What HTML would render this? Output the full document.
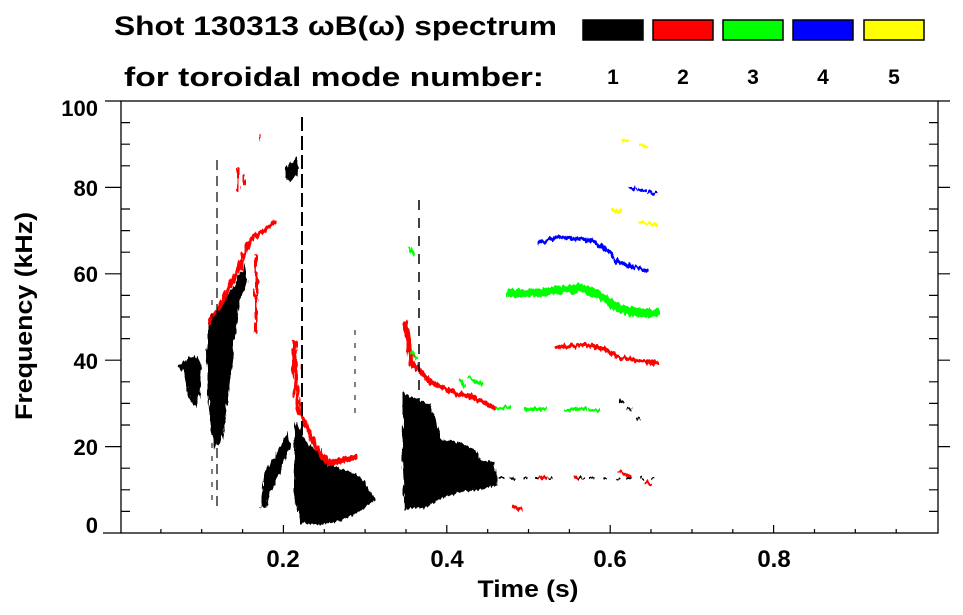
<!DOCTYPE html>
<html><head><meta charset="utf-8"><style>
html,body{margin:0;padding:0;background:#fff;}
svg{display:block;font-family:"Liberation Sans",sans-serif;font-weight:bold;}
</style></head><body>
<svg width="963" height="615" viewBox="0 0 963 615" xmlns="http://www.w3.org/2000/svg">
<defs>
<filter id="rough" x="-5%" y="-5%" width="110%" height="110%">
<feTurbulence type="fractalNoise" baseFrequency="0.35 0.08" numOctaves="2" seed="3" result="n"/>
<feDisplacementMap in="SourceGraphic" in2="n" scale="7" xChannelSelector="R" yChannelSelector="G"/>
</filter>
</defs>
<rect width="963" height="615" fill="#fff"/>
<!-- title/legend -->
<text x="114" y="35" font-size="27" textLength="443" lengthAdjust="spacingAndGlyphs">Shot 130313 ωB(ω) spectrum</text>
<text x="124" y="86" font-size="27" textLength="420" lengthAdjust="spacingAndGlyphs">for toroidal mode number:</text>
<g stroke="#000" stroke-width="1.5">
<rect x="583" y="20" width="60" height="20" fill="#000"/>
<rect x="653" y="20" width="60" height="20" fill="#f00"/>
<rect x="723" y="20" width="60" height="20" fill="#0f0"/>
<rect x="793" y="20" width="60" height="20" fill="#00f"/>
<rect x="864" y="20" width="60" height="20" fill="#ff0"/>
</g>
<g font-size="21" text-anchor="middle">
<text x="613" y="84">1</text><text x="683" y="84">2</text><text x="753" y="84">3</text><text x="823" y="84">4</text><text x="894" y="84">5</text>
</g>
<!-- data -->
<g filter="url(#rough)">
<g fill="#000" stroke="none">
<path d="M177,366 L186,360 L196,355 L202,365 L200,395 L196,408 L190,400 L184,372 Z"/>
<path d="M209,320 L220,305 L232,290 L245,262 L248,280 L240,300 L236,330 L232,360 L228,400 L222,440 L214,450 L210,420 L207,390 L206,350 Z"/>
<path d="M285,168 L292,162 L298,158 L297,176 L287,182 Z"/>
<path d="M260,507 L263,475 L275,455 L288,432 L290,446 L282,468 L272,490 L266,507 Z"/>
<path d="M295,420 L305,440 L320,455 L340,468 L358,475 L368,488 L376,500 L362,510 L345,520 L320,525 L300,523 L294,490 Z"/>
<path d="M403,393 L415,398 L430,405 L442,440 L460,442 L475,450 L480,460 L495,462 L498,485 L480,490 L462,492 L442,498 L425,508 L405,510 L402,450 Z"/>
</g>
<g fill="none" stroke-linecap="round">
<path d="M210,322 L222,302 L238,270 L250,240 L262,232 L275,222" stroke="#f00" stroke-width="4"/>
<path d="M256,257 V333" stroke="#f00" stroke-width="3"/>
<path d="M238,170 V190 M244,175 V185 M260,135 V140" stroke="#f00" stroke-width="2"/>
<path d="M294,343 L296,380 L298,410 L318,450 L328,463 L355,458" stroke="#f00" stroke-width="5"/>
<path d="M405,323 L412,363 L432,383 L455,393 L472,397 L495,408" stroke="#f00" stroke-width="5"/>
<path d="M557,347 L587,345 L607,350 L617,357 L657,363" stroke="#f00" stroke-width="4" stroke-dasharray="8,3"/>
<path d="M540,477 L545,478 M575,477 L580,478 M620,472 L630,476 M645,482 L650,484 M513,508 L522,510" stroke="#f00" stroke-width="3"/>
<path d="M510,293 L540,293 L557,290 L583,288 L603,297 L617,308 L640,313 L657,313" stroke="#0f0" stroke-width="8" stroke-dasharray="16,3"/>
<path d="M498,408 L510,407 M525,410 L545,409 M565,410 L585,409 M590,410 L600,410" stroke="#0f0" stroke-width="3"/>
<path d="M470,378 L482,385 M410,248 L413,255 M460,380 L464,386 M412,353 L416,358" stroke="#0f0" stroke-width="3"/>
<path d="M540,243 L557,237 L590,240 L607,250 L617,262 L647,270" stroke="#00f" stroke-width="4" stroke-dasharray="9,3"/>
<path d="M630,188 L655,193" stroke="#00f" stroke-width="3" stroke-dasharray="6,4"/>
<path d="M622,140 L628,142 M640,145 L647,147 M612,210 L620,212 M640,222 L657,225" stroke="#ff0" stroke-width="3"/>
<path d="M620,400 L640,420 M500,478 L560,478 M580,478 L655,478" stroke="#000" stroke-width="2" stroke-dasharray="3,9"/>
</g>
</g>
<g stroke="#000" fill="none">
<path d="M217,160 V510" stroke-width="1.2" stroke-dasharray="10,6"/>
<path d="M302,117 V493" stroke-width="2" stroke-dasharray="14,5"/>
<path d="M419,200 V400" stroke-width="1.5" stroke-dasharray="10,8"/>
<path d="M212,300 V500" stroke-width="1" stroke-dasharray="5,8"/>
<path d="M355,330 V420" stroke-width="1" stroke-dasharray="5,8"/>
</g>
<!-- axes -->
<g stroke="#000" fill="none" stroke-width="1.3">
<rect x="121" y="101" width="817" height="432"/>
<path d="M103,533 H121"/>
</g>
<g stroke="#000" stroke-width="1.2">
<path d="M105,101H121M105,187.4H121M105,273.8H121M105,360.2H121M105,446.6H121"/>
<path d="M938,101H950M938,187.4H950M938,273.8H950M938,360.2H950M938,446.6H950"/>
<path d="M121,122.6H130M121,144.2H130M121,165.8H130M121,209H130M121,230.6H130M121,252.2H130M121,295.4H130M121,317H130M121,338.6H130M121,381.8H130M121,403.4H130M121,425H130M121,468.2H130M121,489.8H130M121,511.4H130"/>
<path d="M929,122.6H938M929,144.2H938M929,165.8H938M929,209H938M929,230.6H938M929,252.2H938M929,295.4H938M929,317H938M929,338.6H938M929,381.8H938M929,403.4H938M929,425H938M929,468.2H938M929,489.8H938M929,511.4H938"/>
<path d="M160.9,533V529M201.7,533V529M242.6,533V529M324.3,533V529M365.1,533V529M406,533V529M487.7,533V529M528.5,533V529M569.4,533V529M651,533V529M692,533V529M732.8,533V529M814.5,533V529M855.3,533V529M896.2,533V529"/>
<path d="M283.4,533V525M446.8,533V525M610.2,533V525M773.6,533V525"/>
</g>
<g font-size="24" text-anchor="middle">
<text x="283" y="567">0.2</text><text x="447" y="567">0.4</text><text x="610" y="567">0.6</text><text x="774" y="567">0.8</text>
<text x="528" y="597" textLength="101" lengthAdjust="spacingAndGlyphs">Time (s)</text>
</g>
<g font-size="22" text-anchor="end">
<text x="98" y="116">100</text><text x="98" y="196">80</text><text x="98" y="282">60</text><text x="98" y="369">40</text><text x="98" y="455">20</text><text x="98" y="533">0</text>
</g>
<text transform="translate(32,316) rotate(-90)" font-size="24" text-anchor="middle" textLength="208" lengthAdjust="spacingAndGlyphs">Frequency (kHz)</text>
</svg>
</body></html>
